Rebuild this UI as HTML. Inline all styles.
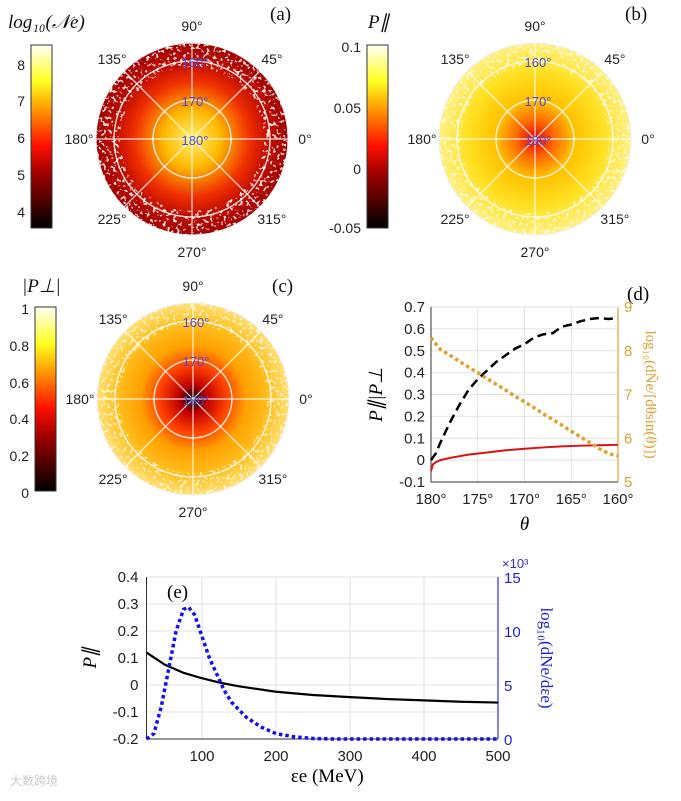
<!DOCTYPE html>
<html><head><meta charset="utf-8"><style>
body{margin:0;background:#fff;}
svg text{font-family:"Liberation Sans","Noto Sans CJK SC",sans-serif;}
.serif{font-family:"Liberation Serif",serif !important;}
</style></head><body>
<svg width="681" height="796" viewBox="0 0 681 796" xmlns="http://www.w3.org/2000/svg">
<defs id="defs">
<linearGradient id="hot" x1="0" y1="1" x2="0" y2="0">
<stop offset="0" stop-color="#000"/><stop offset="0.3" stop-color="#a00000"/><stop offset="0.45" stop-color="#ff1000"/><stop offset="0.65" stop-color="#ff9a00"/><stop offset="0.8" stop-color="#ffff20"/><stop offset="1" stop-color="#fffff5"/>
</linearGradient>
<radialGradient id="ga"><stop offset="0" stop-color="#fff070"/><stop offset="0.3" stop-color="#ffb800"/><stop offset="0.6" stop-color="#f03000"/><stop offset="0.8" stop-color="#c00c00"/><stop offset="1" stop-color="#a00000"/></radialGradient>
<radialGradient id="gb"><stop offset="0" stop-color="#e80000"/><stop offset="0.2" stop-color="#ff6a00"/><stop offset="0.4" stop-color="#ffc000"/><stop offset="0.7" stop-color="#ffe020"/><stop offset="1" stop-color="#fff080"/></radialGradient>
<radialGradient id="gc"><stop offset="0" stop-color="#000"/><stop offset="0.15" stop-color="#c00000"/><stop offset="0.35" stop-color="#ff4000"/><stop offset="0.55" stop-color="#ffa000"/><stop offset="0.8" stop-color="#ffc020"/><stop offset="1" stop-color="#ffe070"/></radialGradient>
<filter id="spk" x="0" y="0" width="1" height="1"><feTurbulence type="fractalNoise" baseFrequency="0.3" numOctaves="2" seed="3"/><feColorMatrix type="matrix" values="0 0 0 0 1  0 0 0 0 1  0 0 0 0 1  0 0 0 12 -7"/></filter>
</defs>
<g id="polars"></g>
<g id="pd"></g>
<g id="pe"></g>
<text x="10" y="785" font-size="12" fill="#ccc">大数跨境</text>
</svg>
<script>
// ---- panel (d) data ----
const dTheta=[180,179.5,179,178,177,176,175,174,173,172,171,170,169,168,167,166,165,164,163,162,161,160];
const dPpar=[0.0,0.03,0.08,0.17,0.25,0.32,0.37,0.41,0.45,0.48,0.51,0.53,0.56,0.575,0.58,0.61,0.62,0.635,0.645,0.65,0.645,0.65];
const dPperpTheta=[180,179.8,179.5,179,178,176,174,172,170,168,166,164,162,160];
const dPperp=[-0.05,-0.02,-0.01,0.0,0.01,0.025,0.035,0.045,0.052,0.058,0.063,0.066,0.068,0.07];
const dLogN=[8.3,8.16,8.03,7.9,7.76,7.63,7.5,7.36,7.23,7.1,6.96,6.83,6.7,6.56,6.43,6.3,6.16,6.03,5.9,5.76,5.65,5.6];
const dYTicks=[0.7,0.6,0.5,0.4,0.3,0.2,0.1,0,-0.1];
const dXTicks=[180,175,170,165,160];
const dRTicks=[9,8,7,6,5];
// ---- panel (e) data ----
const eE=[25,50,75,100,125,150,200,250,300,350,400,450,500];
const ePpar=[0.12,0.075,0.045,0.025,0.008,-0.005,-0.025,-0.037,-0.045,-0.052,-0.057,-0.062,-0.065];
const eE2=[25,35,45,55,65,75,82,90,100,110,120,130,140,160,180,200,225,250,275,500];
const eN=[0,0.5,3,6.5,10,12,12.2,11.5,9.5,7.5,6,4.5,3.4,2,1.1,0.5,0.2,0.05,0,0];
const eYTicks=[0.4,0.3,0.2,0.1,0,-0.1,-0.2];
const eXTicks=[100,200,300,400,500];
const eRTicks=[15,10,5,0];

const NS="http://www.w3.org/2000/svg";
function mk(par,tag,at,txt){const e=document.createElementNS(NS,tag);for(const k in at)e.setAttribute(k,at[k]);if(txt!==undefined)e.textContent=txt;par.appendChild(e);return e;}

// ---- polar panels ----
const P=document.getElementById('polars');
const D=document.getElementById('defs');
const panels=[
 {cx:192,cy:139,g:'ga',cb:[31,45,21,183],ticks:[[8,65],[7,101],[6,138],[5,175],[4,212]],title:'log₁₀(𝒩e)',tx:8,ty:28,lab:'(a)',lx:270,ly:20,name:'a',ri:72,op:0.9},
 {cx:535,cy:139,g:'gb',cb:[367,45,21,183],ticks:[['0.1',47],['0.05',108],['0',169],['-0.05',228]],title:'P∥',tx:368,ty:28,lab:'(b)',lx:625,ly:20,name:'b',ri:74,op:0.75},
 {cx:193,cy:399,g:'gc',cb:[35,307,21,184],ticks:[['1',309],['0.8',346],['0.6',383],['0.4',419],['0.2',456],['0',493]],title:'|P⊥|',tx:22,ty:292,lab:'(c)',lx:272,ly:292,name:'c',ri:74,op:0.75}
];
panels.forEach(p=>{
 const g=mk(P,'g',{});
 
 
 const cb=mk(g,'rect',{x:p.cb[0],y:p.cb[1],width:p.cb[2],height:p.cb[3],fill:'url(#hot)',stroke:'#333','stroke-width':1});
 
 
 p.ticks.forEach(t=>{const tt=mk(g,'text',{x:p.cb[0]-6,y:t[1]+5,'font-size':14,'text-anchor':'end',fill:'#222'},t[0]);
  });
 const ti=mk(g,'text',{x:p.tx,y:p.ty,'font-size':19,class:'serif','font-style':'italic',fill:'#111'},p.title);
 
 const la=mk(g,'text',{x:p.lx,y:p.ly,'font-size':19,class:'serif',fill:'#111'},p.lab);
 
 const d=mk(g,'circle',{cx:p.cx,cy:p.cy,r:96,fill:'url(#'+p.g+')'});
 
 const cp=mk(D,'clipPath',{id:'ring'+p.name});
 const R0=96,Ri=p.ri;
 mk(cp,'path',{'clip-rule':'evenodd',d:`M${p.cx-R0},${p.cy}a${R0},${R0} 0 1,0 ${2*R0},0a${R0},${R0} 0 1,0 ${-2*R0},0Z M${p.cx-Ri},${p.cy}a${Ri},${Ri} 0 1,0 ${2*Ri},0a${Ri},${Ri} 0 1,0 ${-2*Ri},0Z`});
 const sg=mk(g,'g',{'clip-path':'url(#ring'+p.name+')',opacity:p.op});
 
 mk(sg,'rect',{x:p.cx-96,y:p.cy-96,width:192,height:192,filter:'url(#spk)',fill:'#fff'});
 [39,78].forEach(r=>{const c=mk(g,'circle',{cx:p.cx,cy:p.cy,r:r,fill:'none',stroke:'#fff','stroke-width':1.3,opacity:0.9});
  });
 mk(g,'circle',{cx:p.cx,cy:p.cy,r:96,fill:'none',stroke:'#eee','stroke-width':1});
 for(let a=0;a<360;a+=45){const rad=a*Math.PI/180;
  const l=mk(g,'line',{x1:p.cx,y1:p.cy,x2:p.cx+96*Math.cos(rad),y2:p.cy-96*Math.sin(rad),stroke:'#fff','stroke-width':1.2,opacity:0.85});
  
  const R=113;const t=mk(g,'text',{x:p.cx+R*Math.cos(rad),y:p.cy-R*Math.sin(rad)+5,'font-size':14,'text-anchor':'middle',fill:'#222'},a+'°');
  }
 [['160°',78],['170°',39],['180°',0]].forEach(q=>{const t=mk(g,'text',{x:p.cx+3,y:p.cy-q[1]+6,'font-size':13,'text-anchor':'middle',fill:'#4a4ae0'},q[0]);
  });
});

// ---- panel (d) ----
(function(){
 const G=document.getElementById('pd');
 const L=431,R=618,T=307,B=482;
 const x=v=>L+(180-v)/20*(R-L), y=v=>B-(v+0.1)/0.8*(B-T), yr=v=>B-(v-5)/4*(B-T);
 mk(G,'rect',{x:L,y:T,width:R-L,height:B-T,fill:'#fff'});
 dXTicks.forEach(t=>{const l=mk(G,'line',{x1:x(t),x2:x(t),y1:T,y2:B,stroke:'#e2e2e2'});
  const tt=mk(G,'text',{x:x(t),y:B+22,'font-size':15,'text-anchor':'middle',fill:'#222'},t+'°');});
 dYTicks.forEach(t=>{const l=mk(G,'line',{x1:L,x2:R,y1:y(t),y2:y(t),stroke:'#e2e2e2'});
  const tt=mk(G,'text',{x:L-6,y:y(t)+5,'font-size':15,'text-anchor':'end',fill:'#222'},t);});
 dRTicks.forEach(t=>{const tt=mk(G,'text',{x:R+6,y:yr(t)+5,'font-size':15,fill:'#e0a030'},t);});
 mk(G,'path',{d:`M${L},${T}V${B}H${R}`,fill:'none',stroke:'#333'});
 mk(G,'line',{x1:R,x2:R,y1:T,y2:B,stroke:'#e0a030','stroke-width':1.2});
 const s1=mk(G,'polyline',{points:dTheta.map((t,i)=>x(t)+','+y(dPpar[i])).join(' '),fill:'none',stroke:'#000','stroke-width':2.5,'stroke-dasharray':'9 5'});
 
 const s2=mk(G,'polyline',{points:dPperpTheta.map((t,i)=>x(t)+','+y(dPperp[i])).join(' '),fill:'none',stroke:'#e01010','stroke-width':2});
 
 const s3=mk(G,'polyline',{points:dTheta.map((t,i)=>x(t)+','+yr(dLogN[i])).join(' '),fill:'none',stroke:'#e0a030','stroke-width':3.5,'stroke-dasharray':'3.5 3'});
 
 const xt=mk(G,'text',{x:(L+R)/2,y:530,'font-size':19,class:'serif','font-style':'italic','text-anchor':'middle'},'θ');
 const yt=mk(G,'text',{x:0,y:0,'font-size':19,class:'serif','font-style':'italic','text-anchor':'middle',transform:`translate(382,${(T+B)/2}) rotate(-90)`},'P∥|P⊥');
 const y2=mk(G,'text',{x:0,y:0,'font-size':15,class:'serif','text-anchor':'middle',fill:'#e0a030',transform:`translate(646,${(T+B)/2}) rotate(90)`},'log₁₀(dÑe/[dθsin(θ)])');
 const lb=mk(G,'text',{x:627,y:300,'font-size':19,class:'serif'},'(d)');
})();

// ---- panel (e) ----
(function(){
 const G=document.getElementById('pe');
 const L=146.5,R=498,T=577,B=739;
 const x=v=>L+(v-25)*0.74, y=v=>B-(v+0.2)/0.6*(B-T), yr=v=>B-v/15*(B-T);
 eXTicks.forEach(t=>{const l=mk(G,'line',{x1:x(t),x2:x(t),y1:T,y2:B,stroke:'#e2e2e2'});
  const tt=mk(G,'text',{x:x(t),y:B+22,'font-size':15,'text-anchor':'middle',fill:'#222'},t);});
 eYTicks.forEach(t=>{const l=mk(G,'line',{x1:L,x2:R,y1:y(t),y2:y(t),stroke:'#e2e2e2'});
  const tt=mk(G,'text',{x:L-8,y:y(t)+5,'font-size':15,'text-anchor':'end',fill:'#222'},t);});
 eRTicks.forEach(t=>{const tt=mk(G,'text',{x:R+6,y:yr(t)+6,'font-size':15,fill:'#2020e0'},t);});
 mk(G,'path',{d:`M${L},${T}V${B}H${R}`,fill:'none',stroke:'#333'});
 mk(G,'line',{x1:R,x2:R,y1:T,y2:B,stroke:'#3030e0','stroke-width':1.2});
 const s1=mk(G,'polyline',{points:eE.map((t,i)=>x(t)+','+y(ePpar[i])).join(' '),fill:'none',stroke:'#000','stroke-width':2.2});
 
 const s2=mk(G,'polyline',{points:eE2.map((t,i)=>x(t)+','+yr(eN[i])).join(' '),fill:'none',stroke:'#1010f0','stroke-width':3.5,'stroke-dasharray':'3.5 3'});
 
 const ex=mk(G,'text',{x:502,y:568,'font-size':13,fill:'#3030e0'},'×10³');
 const xt=mk(G,'text',{x:(L+R)/2+5,y:782,'font-size':19,class:'serif','text-anchor':'middle'},'εe (MeV)');
 const yt=mk(G,'text',{x:0,y:0,'font-size':19,class:'serif','font-style':'italic','text-anchor':'middle',transform:`translate(96,${(T+B)/2}) rotate(-90)`},'P∥');
 const y2=mk(G,'text',{x:0,y:0,'font-size':17,class:'serif','text-anchor':'middle',fill:'#2020e0',transform:`translate(541,${(T+B)/2}) rotate(90)`},'log₁₀(dNe/dεe)');
 const lb=mk(G,'text',{x:167,y:598,'font-size':19,class:'serif'},'(e)');
})();
</script>
</body></html>
